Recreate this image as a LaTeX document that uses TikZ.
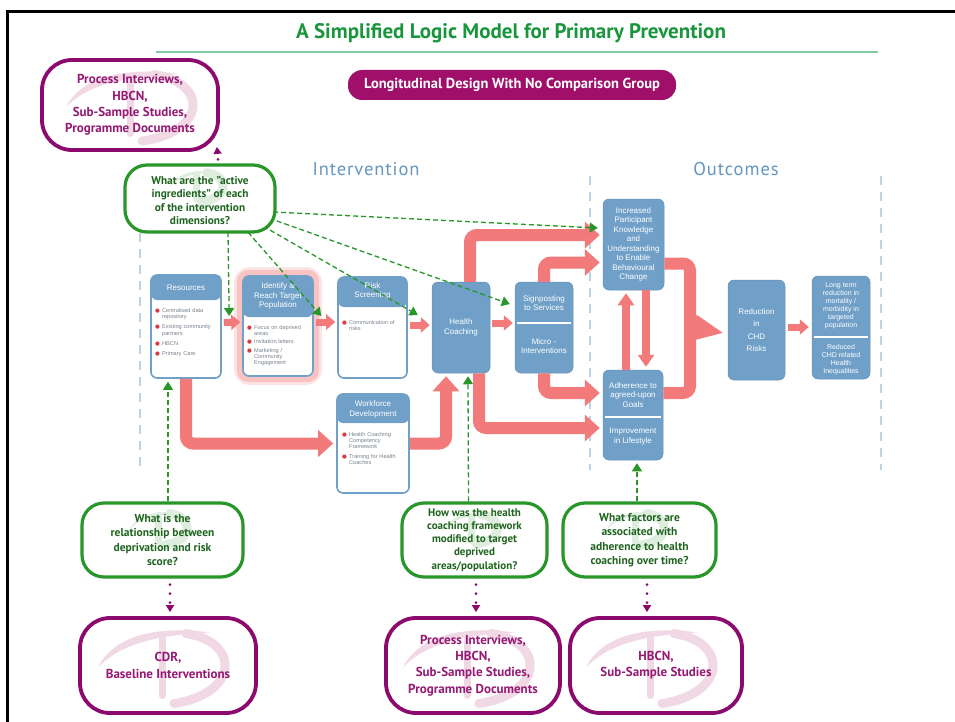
\documentclass[tikz,border=0pt]{standalone}
\usepackage{fontspec}
\setmainfont{PT Sans}
\newfontfamily\hv{Liberation Sans}
\newfontfamily\dv{DejaVu Sans}
\usetikzlibrary{arrows.meta,calc}
\definecolor{boxblue}{RGB}{112,160,200}
\definecolor{apink}{RGB}{242,122,122}
\definecolor{qgreen}{RGB}{40,150,40}
\definecolor{qtext}{RGB}{30,100,30}
\definecolor{mag}{RGB}{140,10,110}
\definecolor{magtext}{RGB}{150,25,115}
\definecolor{pillc}{RGB}{160,15,105}
\definecolor{titlegreen}{RGB}{25,150,60}
\definecolor{linegreen}{RGB}{130,205,160}
\definecolor{labblue}{RGB}{100,150,190}
\definecolor{vdash}{RGB}{185,212,230}
\definecolor{itemgray}{RGB}{120,130,140}
\definecolor{bullred}{RGB}{215,60,70}
\definecolor{wmpink}{RGB}{240,216,229}
\definecolor{wmgreen}{RGB}{222,237,222}
\newcommand\bitem[1]{\noindent\hangindent=7pt\hangafter=1\makebox[7pt][l]{\textcolor{bullred}{\dv\fontsize{5.5}{5.5}\selectfont ●}}#1\par}
\newcommand\wmDshape[1]{%
 \fill[#1] (-72,2) .. controls (-56,-30) and (-14,-40) .. (40,-33) .. controls (-5,-31) and (-48,-24) .. (-72,2) -- cycle;
 \draw[#1, line width=9pt, line cap=round] (16,-32) .. controls (70,-24) and (70,28) .. (4,38);
 \draw[#1, line width=7pt, line cap=round] (-8,-28) -- (-8,30);
}
\begin{document}
\begin{tikzpicture}[x=1pt,y=-1pt,
 every node/.style={inner sep=0pt},
 hdrbox/.style={draw=boxblue, line width=1.6pt, fill=white, rounded corners=6pt,
   path picture={\fill[boxblue] ([yshift=3pt]path picture bounding box.north west) rectangle ([yshift=-#1]path picture bounding box.north east);}},
 bluebox/.style={fill=boxblue, draw=boxblue!90!black, line width=0.5pt, rounded corners=6pt},
 wtxt/.style={text=white, font=\hv\fontsize{8}{9.3}\selectfont, align=center},
 items/.style={text=itemgray, font=\hv\fontsize{5.6}{6.3}\selectfont, align=left, anchor=north west},
 qbox/.style={draw=qgreen, line width=3.2pt, rounded corners=22pt, text=qtext,
   font=\bfseries\fontsize{11.5}{14.5}\selectfont, align=center},
 dbox/.style={draw=mag, line width=3.8pt, rounded corners=30pt, text=magtext,
   font=\bfseries\fontsize{13}{16.3}\selectfont, align=center},
 pinksmall/.style={draw=apink, line width=7pt, -{Triangle[width=15pt,length=9pt]}},
 pinkmid/.style={draw=apink, line width=8pt, -{Triangle[width=16pt,length=12pt]}},
 pinkbig/.style={draw=apink, line width=12pt, rounded corners=7pt, -{Triangle[width=26pt,length=15pt]}},
 pinkhuge/.style={draw=apink, line width=12pt, -{Triangle[width=24pt,length=30pt]}},
 pinkline/.style={draw=apink, line width=12pt, rounded corners=7pt},
 gdash/.style={draw=qgreen, line width=1.3pt, dash pattern=on 5pt off 3pt, -{Triangle[width=10pt,length=8pt]}},
 mdot/.style={draw=mag, line width=3pt, line cap=round, dash pattern=on 0pt off 9pt, -{Triangle[width=8pt,length=7pt]}},
 vd/.style={draw=vdash, line width=2pt, dash pattern=on 9pt off 7pt},
 lab/.style={text=labblue, font=\fontsize{18.5}{18.5}\selectfont\addfontfeature{LetterSpace=5}},
 sepl/.style={draw=white, line width=1.6pt}
]
\useasboundingbox (0,0) rectangle (955,722);
\fill[white] (0,0) rectangle (955,722);
% frame
\draw[line width=3pt] (7,722) -- (7,11.5) -- (955,11.5);
% title
\node[font=\bfseries\fontsize{21}{21}\selectfont, text=titlegreen] (title) at (511,33) {A Simplified Logic Model for Primary Prevention};
\draw[linegreen, line width=1.5pt] (156,52) -- (878,52);
\node[fill=pillc, rounded corners=14pt, minimum width=328pt, minimum height=30pt, text=white, font=\bfseries\fontsize{14.5}{14.5}\selectfont] (pill) at (512,85) {Longitudinal Design With No Comparison Group};
% section labels and dividers
\node[lab] (intv) at (366,169) {Intervention};
\node[lab] (outc) at (736,169) {Outcomes};
\draw[vd] (140,185) -- (140,470);
\draw[vd] (590,176) -- (590,470);
\draw[vd] (881,176) -- (881,470);
% glow behind identify
\draw[apink!20, line width=12pt, rounded corners=10pt] (240,273) rectangle (316,379);
\draw[apink!45, line width=6pt, rounded corners=8pt] (240,273) rectangle (316,379);
% header boxes
\node[hdrbox=25pt, minimum width=70pt, minimum height=103pt] (res) at (186,326.5) {};
\node[hdrbox=41pt, minimum width=70pt, minimum height=100pt] (iden) at (278,326) {};
\node[hdrbox=30pt, minimum width=69pt, minimum height=101pt] (risk) at (372.5,327.5) {};
\node[hdrbox=29pt, minimum width=72pt, minimum height=99pt] (wf) at (373,443.5) {};
\node[wtxt] (resH) at (186,288) {Resources};
\node[wtxt] (idenH) at (278,296) {Identify \&\\Reach Target\\Population};
\node[wtxt] (riskH) at (372.5,291) {Risk\\Screening};
\node[wtxt] (wfH) at (373,409.5) {Workforce\\Development};
\node[items, text width=64pt] (resL) at (155,308) {\bitem{Centralised data\newline repository}\vspace{4pt}\bitem{Existing community\newline partners}\vspace{4pt}\bitem{HBCN}\vspace{4pt}\bitem{Primary Care}};
\node[items, text width=64pt] (idenL) at (247,325) {\bitem{Focus on deprived\newline areas}\vspace{2pt}\bitem{Invitation letters}\vspace{2pt}\bitem{Marketing /\newline Community\newline Engagement}};
\node[items, text width=62pt] (riskL) at (342,320) {\bitem{Communication of\newline risks}};
\node[items, text width=64pt] (wfL) at (342,432) {\bitem{Health Coaching\newline Competency\newline Framework}\vspace{3pt}\bitem{Training for Health\newline Coaches}};
% solid boxes
\node[bluebox, wtxt, minimum width=58pt, minimum height=91pt] (hc) at (461,327.5) {Health\\Coaching};
\node[bluebox, minimum width=58pt, minimum height=91pt] (sign) at (544,327.5) {};
\node[wtxt] (signT) at (544,303) {Signposting\\to Services};
\node[wtxt] (signB) at (544,346) {Micro -\\Interventions};
\draw[sepl] (517,323) -- (571,323);
\node[bluebox, wtxt, minimum width=61pt, minimum height=91pt, font=\hv\fontsize{8}{9.5}\selectfont] (know) at (633.5,244.5) {Increased\\Participant\\Knowledge\\and\\Understanding\\to Enable\\Behavioural\\Change};
\node[bluebox, minimum width=60pt, minimum height=90pt] (adh) at (633,415) {};
\node[wtxt] (adhT) at (633,395) {Adherence to\\agreed-upon\\Goals};
\node[wtxt] (adhB) at (633,436.5) {Improvement\\in Lifestyle};
\draw[sepl] (605,417) -- (661,417);
\node[bluebox, wtxt, minimum width=57pt, minimum height=100pt, font=\hv\fontsize{8}{12.4}\selectfont] (red) at (756.5,330) {Reduction\\in\\CHD\\Risks};
\node[bluebox, minimum width=58pt, minimum height=103pt] (long) at (841,327.5) {};
\node[wtxt, font=\hv\fontsize{7}{8}\selectfont] (longT) at (841,306) {Long term\\reduction in\\mortality /\\morbidity in\\targeted\\population};
\node[wtxt, font=\hv\fontsize{7}{8.2}\selectfont] (longB) at (841,359.5) {Reduced\\CHD related\\Health\\Inequalities};
\draw[sepl] (814,337) -- (868,337);
% pink arrows
\draw[pinksmall] ([xshift=2pt,yshift=4pt]res.east) -- ([xshift=-2pt,yshift=4pt]iden.west);
\draw[pinksmall] ([xshift=2pt,yshift=4pt]iden.east) -- ([xshift=-2pt,yshift=5.5pt]risk.west);
\draw[pinksmall] ([xshift=2pt,yshift=2.5pt]risk.east) -- ([xshift=-2pt,yshift=2.5pt]hc.west);
\draw[pinksmall] ([xshift=2pt,yshift=4.5pt]hc.east) -- ([xshift=-2pt,yshift=4.5pt]sign.west);
\draw[pinksmall] ([xshift=3pt,yshift=3pt]red.east) -- ([xshift=-3pt,yshift=0.5pt]long.west);
\draw[pinkbig] ([xshift=9pt]hc.north) |- ([xshift=-3pt,yshift=9.5pt]know.west);
\draw[pinkbig] (sign.north) |- ([xshift=-3pt,yshift=-18pt]know.west);
\draw[pinkbig] (sign.south) |- ([xshift=-3pt,yshift=22pt]adh.west);
\draw[pinkbig] ([xshift=18pt]hc.south) |- ([xshift=-3pt,yshift=-13pt]adh.west);
\draw[pinkbig] (res.south) |- ([xshift=-3pt]wf.west);
\draw[pinkbig] (wf.east) -| ([xshift=-15pt,yshift=-3pt]hc.south);
\draw[pinkmid] ([xshift=-7pt]adh.north) -- ([xshift=-7.5pt,yshift=-3pt]know.south);
\draw[pinkmid] ([xshift=12.5pt]know.south) -- ([xshift=13pt,yshift=3pt]adh.north);
\coordinate (jn) at (690,327);
\draw[pinkline] ([yshift=-19pt]know.east) -| (jn) |- ([yshift=22pt]adh.east);
\draw[pinkhuge] (jn) -- ([xshift=-4pt,yshift=-3pt]red.west);
% top question box: anchors first, links, then the box over their starts
\path node[minimum width=150pt, minimum height=67pt] (q0) at (200,198.5) {};
\draw[gdash] ([xshift=28pt]q0.south) -- ([xshift=-13pt,yshift=10pt]iden.west);
\draw[gdash] ([xshift=48pt]q0.south) -- ([xshift=-16pt,yshift=11.5pt]risk.west);
\draw[gdash] ([xshift=-12pt,yshift=6pt]q0.south east) -- ([xshift=-14pt,yshift=12.5pt]hc.west);
\draw[gdash] ([xshift=-6pt,yshift=14pt]q0.south east) -- ([xshift=-5pt,yshift=23.5pt]sign.west);
\draw[gdash] ([xshift=-2pt,yshift=-13.5pt]q0.east) -- ([xshift=-5pt,yshift=16.5pt]know.west);
\node[qbox, fill=white, minimum width=150pt, minimum height=67pt] (q0B) at (q0) {};
% watermarks
\begin{scope}[shift={(200,186)}, scale=0.42]\wmDshape{wmgreen}\end{scope}
\begin{scope}[shift={(162.5,528)}, scale=0.45]\wmDshape{wmgreen}\end{scope}
\begin{scope}[shift={(474.5,528)}, scale=0.42]\wmDshape{wmgreen}\end{scope}
\begin{scope}[shift={(639.5,528)}, scale=0.45]\wmDshape{wmgreen}\end{scope}
\begin{scope}[shift={(138,105)}, yscale=0.95]\wmDshape{wmpink}\end{scope}
\begin{scope}[shift={(170,665.5)}]\wmDshape{wmpink}\end{scope}
\begin{scope}[shift={(475,665.5)}]\wmDshape{wmpink}\end{scope}
\begin{scope}[shift={(658,665.5)}]\wmDshape{wmpink}\end{scope}
\node[text=qtext, font=\bfseries\fontsize{11.3}{13.3}\selectfont, align=center] (q0T) at (200,200.5) {What are the "active\\ingredients" of each\\of the intervention\\dimensions?};
% bottom question boxes
\node[qbox, minimum width=161pt, minimum height=74pt] (q1) at (162.5,540) {What is the\\relationship between\\deprivation and risk\\score?};
\node[qbox, minimum width=145pt, minimum height=74pt, font=\bfseries\fontsize{11}{13.2}\selectfont] (q2) at (474.5,540) {How was the health\\coaching framework\\modified to target\\deprived\\areas/population?};
\node[qbox, minimum width=153pt, minimum height=74pt] (q3) at (639.5,540) {What factors are\\associated with\\adherence to health\\coaching over time?};
\draw[gdash] ([xshift=5.5pt]q1.north) -- ([xshift=-18pt,yshift=-3pt]res.south);
\draw[gdash] ([xshift=-6pt]q2.north) -- ([xshift=7pt,yshift=-3pt]hc.south);
\draw[gdash] ([xshift=-2.5pt]q3.north) -- ([xshift=4pt,yshift=-3pt]adh.south);
% data source boxes
\node[dbox, minimum width=176pt, minimum height=90pt] (d0) at (130,105) {Process Interviews,\\HBCN,\\Sub-Sample Studies,\\Programme Documents};
\node[dbox, minimum width=176pt, minimum height=95pt] (d1) at (168,665.5) {CDR,\\Baseline Interventions};
\node[dbox, minimum width=174pt, minimum height=95pt] (d2) at (473,665.5) {Process Interviews,\\HBCN,\\Sub-Sample Studies,\\Programme Documents};
\node[dbox, minimum width=172pt, minimum height=95pt] (d3) at (656,665.5) {HBCN,\\Sub-Sample Studies};
\draw[mdot] ([xshift=18pt,yshift=4pt]q0B.north) -- ([xshift=-3pt,yshift=5pt]d0.south east);
\draw[mdot] ([xshift=7.5pt,yshift=-6pt]q1.south) -- ([xshift=2pt,yshift=4pt]d1.north);
\draw[mdot] ([xshift=1.5pt,yshift=-6pt]q2.south) -- ([xshift=3pt,yshift=4pt]d2.north);
\draw[mdot] ([xshift=7.5pt,yshift=-6pt]q3.south) -- ([xshift=-9pt,yshift=4pt]d3.north);
\end{tikzpicture}
\end{document}
